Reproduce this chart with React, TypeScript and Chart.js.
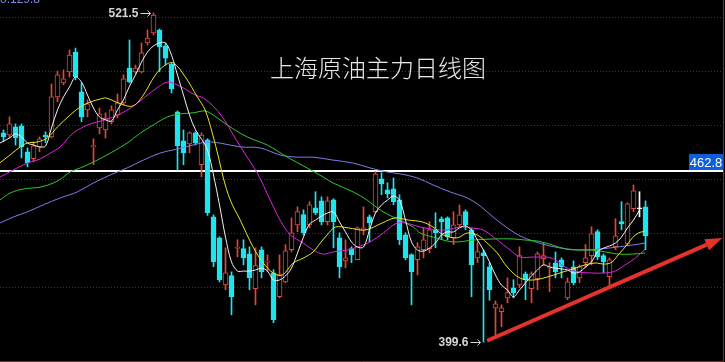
import React, { useEffect, useRef } from "react";
import { Chart, registerables } from "chart.js";

Chart.register(...registerables);

// ---- candle data (daily, oldest first) ----
const OPEN = [
  477.1, 476.3, 479.3, 479.7, 470.1, 467.5, 471.9, 476.3, 475.6, 490.4,
  495.6, 499.7, 507.0, 492.3, 485.6, 472.0, 478.9, 478.2, 481.2, 483.7,
  488.2, 501.1, 499.7, 499.7, 510.4, 514.1, 515.2, 509.3, 502.6, 484.9,
  474.1, 473.0, 477.1, 465.3, 474.5, 446.0, 438.2, 420.8, 424.2, 434.3,
  434.2, 432.3, 419.4, 433.8, 429.2, 425.3, 416.4, 421.9, 433.8, 443.0,
  446.8, 443.0, 449.3, 451.9, 444.2, 452.3, 438.2, 429.7, 434.2, 430.1,
  441.1, 446.0, 447.9, 460.1, 456.0, 456.4, 452.3, 439.3, 432.0, 430.1,
  433.8, 434.2, 441.2, 445.3, 445.6, 438.2, 443.0, 447.9, 441.2, 430.8,
  432.7, 427.5, 412.3, 410.9, 416.0, 419.7, 420.8, 424.9, 419.4, 423.1,
  430.5, 427.1, 429.0, 430.1, 416.0, 427.5, 423.4, 429.0, 431.6, 440.5,
  431.6, 423.8, 434.9, 444.2, 436.0, 449.0, 449.0, 449.7,
];
const HIGH = [
  478.2, 483.0, 480.4, 480.4, 471.5, 473.8, 475.6, 477.5, 495.2, 500.0,
  500.4, 507.8, 508.5, 495.6, 489.3, 474.9, 486.3, 484.5, 487.1, 491.5,
  498.6, 511.5, 502.2, 510.4, 515.2, 521.5, 515.6, 510.4, 503.0, 485.2,
  478.2, 477.5, 477.5, 477.1, 474.9, 446.7, 438.6, 434.5, 425.6, 437.5,
  437.5, 434.9, 434.5, 434.9, 431.9, 426.4, 431.9, 435.7, 445.6, 449.7,
  448.6, 451.6, 455.3, 453.4, 453.4, 452.7, 440.1, 437.5, 434.9, 442.3,
  449.7, 446.7, 462.7, 462.3, 458.6, 460.4, 454.2, 440.1, 432.3, 436.4,
  441.9, 444.2, 447.5, 446.0, 446.0, 447.9, 450.4, 448.6, 441.9, 436.8,
  433.8, 429.0, 414.9, 413.4, 423.4, 422.7, 434.9, 425.6, 425.6, 433.0,
  436.4, 429.0, 433.0, 430.8, 423.4, 429.7, 428.2, 435.7, 442.3, 441.2,
  432.3, 430.8, 445.3, 451.6, 451.2, 457.8, 455.3, 451.9,
];
const LOW = [
  473.8, 475.2, 472.6, 467.8, 464.5, 466.4, 470.1, 473.4, 475.2, 488.6,
  494.9, 497.8, 496.7, 481.2, 483.0, 465.3, 476.7, 475.2, 480.4, 482.6,
  487.4, 495.6, 498.9, 499.3, 509.6, 513.4, 499.7, 502.2, 491.9, 463.4,
  465.3, 469.7, 472.6, 460.8, 446.5, 427.5, 421.9, 419.0, 409.7, 431.2,
  428.2, 419.0, 413.4, 423.4, 425.7, 406.8, 416.0, 421.6, 433.0, 440.5,
  439.3, 441.9, 446.8, 443.0, 443.0, 434.5, 423.4, 427.1, 429.0, 430.1,
  439.3, 436.8, 447.5, 454.2, 453.0, 450.5, 435.7, 430.1, 413.4, 424.5,
  430.8, 432.7, 434.5, 437.5, 437.5, 435.7, 442.3, 441.2, 416.4, 429.0,
  399.6, 415.1, 401.6, 405.3, 414.2, 416.0, 419.7, 415.3, 414.2, 419.0,
  428.2, 418.3, 423.4, 423.4, 415.3, 420.8, 421.6, 427.1, 428.2, 430.1,
  425.3, 420.1, 433.8, 441.2, 435.3, 447.9, 446.0, 433.8,
];
const CLOSE = [
  475.6, 480.4, 475.2, 471.9, 466.0, 472.3, 474.9, 475.6, 490.4, 498.6,
  497.1, 505.9, 497.8, 483.0, 487.8, 472.3, 484.1, 482.6, 485.6, 488.2,
  497.1, 496.0, 501.1, 506.7, 512.2, 520.7, 508.9, 504.8, 493.4, 472.3,
  469.7, 477.1, 473.4, 476.3, 447.5, 429.4, 422.7, 425.3, 416.4, 434.6,
  430.8, 423.4, 427.9, 425.7, 429.6, 407.9, 424.6, 433.4, 440.1, 447.9,
  440.1, 450.4, 447.5, 444.2, 451.9, 444.2, 427.5, 430.8, 432.0, 441.9,
  441.9, 443.8, 461.9, 458.2, 454.5, 451.6, 437.5, 430.8, 425.7, 434.9,
  437.5, 441.2, 440.1, 444.2, 438.6, 443.0, 446.7, 443.0, 428.2, 433.1,
  431.6, 419.0, 413.8, 412.3, 417.9, 417.9, 431.6, 422.7, 424.9, 432.3,
  431.6, 427.5, 425.7, 427.5, 421.9, 421.6, 427.5, 430.8, 439.7, 431.2,
  429.4, 430.1, 439.0, 443.4, 450.8, 455.6, 449.0, 438.9,
];

// ---- moving averages ----
// MA5: one value per candle, starting at candle 0
const MA5 = [
  473.3, 475.2, 476.7, 475.6, 473.3, 472.6, 471.9, 472.2, 478.9, 485.6,
  490.4, 494.1, 497.8, 495.9, 491.1, 486.3, 483.0, 481.9, 481.5, 485.6,
  489.3, 494.4, 498.5, 503.3, 507.0, 509.3, 510.4, 510.4, 505.9, 498.5,
  491.1, 483.7, 478.2, 474.8, 470.7, 461.5, 450.4, 438.5, 429.3, 425.9,
  425.9, 425.9, 426.3, 427.0, 425.9, 422.6, 422.6, 424.1, 427.0, 432.6,
  438.5, 443.3, 444.8, 446.3, 447.4, 447.8, 444.1, 440.4, 436.7, 434.8,
  434.8, 441.1, 447.4, 450.4, 452.2, 453.7, 452.2, 444.8, 436.7, 433.7,
  433.3, 434.4, 436.3, 439.3, 440.4, 440.4, 441.9, 442.6, 441.1, 437.4,
  433.7, 429.3, 424.4, 420.7, 418.9, 416.3, 418.9, 421.5, 424.1, 426.3,
  428.2, 427.4, 427.0, 426.7, 426.3, 425.2, 425.6, 427.4, 429.3, 433.0,
  434.4, 435.2, 436.3, 438.5, 441.9, 444.8, 448.5,
];
// [candle index, value]
const MA10: [number, number][] = [
  [-0.6, 466.0], [1.1, 468.9], [2.8, 471.9], [3.95, 473.3], [5.6, 473.7], [7.3, 475.2],
  [9, 479.3], [11.1, 483.7], [12.8, 486.7], [14.45, 488.5], [16.1, 489.6], [17.1, 490.0],
  [19.1, 488.2], [21.45, 487.0], [23.1, 490.4], [25.3, 498.5], [26.95, 502.2], [28.3, 503.0],
  [30.3, 497.8], [32.3, 490.4], [33.6, 485.6], [34.8, 477.0], [35.95, 467.0], [36.6, 460.7],
  [37.8, 452.2], [39.45, 444.8], [41.6, 434.8], [43.3, 428.9], [44.95, 425.2], [46.45, 424.4],
  [48.3, 428.9], [49.95, 430.7], [51.6, 433.0], [52.8, 436.3], [53.95, 439.3], [55.3, 442.2],
  [57.45, 441.9], [60.3, 441.1], [63.1, 443.7], [65.3, 445.6], [67.45, 444.8], [69.8, 444.1],
  [71.6, 442.2], [73.3, 439.3], [75.6, 438.2], [77.3, 440.0], [78.95, 439.3], [80.6, 436.3],
  [82.3, 432.6], [83.95, 427.4], [86.1, 423.3], [88.3, 422.6], [90.6, 423.7], [92.75, 425.2],
  [95.3, 427.0], [96.95, 428.2], [98.6, 428.9], [100.3, 428.5], [101.45, 429.3], [102.45, 431.9],
  [103.6, 434.8], [104.8, 438.2], [105.8, 440.0], [106.95, 440.7],
];
const MA20: [number, number][] = [
  [-0.6, 460.7], [1.6, 463.3], [3.95, 465.9], [6.1, 467.4], [7.8, 469.6], [9.45, 471.9],
  [11.6, 477.0], [14.0, 480.0], [15.6, 481.1], [17.3, 482.2], [19.1, 483.7], [21.45, 486.7],
  [23.6, 490.4], [25.8, 494.1], [27.3, 495.9], [28.6, 495.2], [30.3, 493.3], [31.95, 491.1],
  [33.3, 490.0], [34.95, 487.0], [36.6, 482.6], [38.6, 475.2], [40.6, 468.1], [42.3, 462.2],
  [44.45, 452.2], [46.1, 444.8], [47.8, 439.3], [49.95, 436.3], [51.6, 433.7], [53.3, 432.2],
  [54.95, 433.0], [57.3, 433.7], [58.95, 434.8], [61.1, 436.7], [63.3, 440.0], [65.6, 443.7],
  [67.8, 443.3], [69.45, 442.2], [73.3, 441.1], [76.1, 442.2], [77.8, 441.9], [79.95, 441.1],
  [82.3, 437.4], [84.45, 433.7], [86.1, 431.1], [88.3, 431.1], [91.45, 430.7], [93.6, 427.4],
  [95.8, 425.6], [98.1, 425.2], [100.3, 425.2], [101.95, 425.9], [103.6, 428.2], [105.3, 430.7],
  [106.95, 434.1],
];
const MA40: [number, number][] = [
  [-0.6, 452.2], [1.1, 454.8], [3.3, 456.3], [6.1, 457.0], [8.3, 458.5], [9.8, 460.4],
  [11.1, 462.6], [12.8, 464.1], [15.0, 466.3], [17.8, 469.6], [20.6, 473.3], [22.8, 477.0],
  [24.95, 480.0], [27.3, 483.0], [29.45, 484.1], [31.6, 484.5], [33.6, 485.2], [34.95, 483.7],
  [37.3, 480.0], [40.6, 475.6], [43.95, 472.6], [47.3, 468.1], [50.6, 464.1], [53.3, 460.7],
  [54.95, 458.5], [58.3, 455.2], [60.6, 452.2], [62.8, 448.5], [64.95, 445.9], [66.1, 444.8],
  [68.3, 442.2], [69.45, 440.0], [71.6, 438.5], [74.95, 436.7], [78.3, 437.4], [81.6, 437.8],
  [84.95, 437.8], [86.95, 437.4], [89.1, 437.0], [91.45, 435.6], [93.6, 434.1], [95.8, 433.7],
  [98.1, 433.7], [100.3, 433.0], [102.45, 432.2], [104.8, 432.2], [106.95, 432.6],
];
const MA60: [number, number][] = [
  [-0.6, 443.7], [1.6, 445.9], [3.95, 447.8], [6.6, 450.4], [9.45, 453.0], [12.3, 455.2],
  [14.95, 458.5], [17.8, 461.5], [20.6, 464.1], [23.3, 467.0], [26.1, 469.6], [28.95, 471.1],
  [31.6, 472.6], [33.95, 473.7], [36.1, 473.3], [39.45, 471.9], [42.8, 471.5], [46.1, 468.9],
  [48.95, 468.1], [51.6, 468.1], [54.95, 467.0], [58.3, 465.9], [61.1, 464.1], [63.95, 462.6],
  [66.1, 461.9], [68.95, 460.4], [71.6, 457.8], [74.45, 455.2], [77.3, 453.0], [79.45, 450.0],
  [81.6, 445.9], [83.95, 441.9], [86.1, 438.9], [88.3, 437.0], [91.1, 435.2], [93.95, 434.1],
  [96.6, 433.7], [99.45, 434.1], [102.3, 434.8], [104.95, 435.6], [106.95, 436.3],
];

const GRID_VALUES = [420, 440, 460, 480, 500, 520];
const PRICE_LINE = 462.8;
const TITLE = "上海原油主力日线图";
const TOP_TEXT = "0.129.8";
const TREND_FROM: [number, number] = [80.6, 400.1];
const TREND_TO: [number, number] = [119.8, 438.2];

const X_MIN = -0.5833;
const X_MAX = 119.9167;
const Y_MIN = 392.6;
const Y_MAX = 526.3;

const RED = "#e2473b";
const CYAN = "#1ee4ee";
const WHITE = "#ffffff";

function candleColor(i: number) {
  if (CLOSE[i] > OPEN[i]) return RED;
  if (CLOSE[i] < OPEN[i]) return CYAN;
  return WHITE;
}

const overlay = {
  id: "overlay",
  beforeDraw(chart: any) {
    const { ctx, width, height } = chart;
    ctx.save();
    ctx.fillStyle = "#000000";
    ctx.fillRect(0, 0, width, height);
    ctx.restore();
  },
  beforeDatasetsDraw(chart: any) {
    const { ctx, chartArea, scales } = chart;
    const ys = scales.y;
    ctx.save();
    ctx.strokeStyle = "#8c1414";
    ctx.lineWidth = 1;
    ctx.setLineDash([1, 2]);
    GRID_VALUES.forEach((v) => {
      const y = Math.round(ys.getPixelForValue(v)) + 0.5;
      ctx.beginPath();
      ctx.moveTo(chartArea.left, y);
      ctx.lineTo(chartArea.right, y);
      ctx.stroke();
    });
    ctx.setLineDash([]);
    // horizontal price line
    const py = Math.round(ys.getPixelForValue(PRICE_LINE));
    ctx.strokeStyle = "#ffffff";
    ctx.lineWidth = 2;
    ctx.beginPath();
    ctx.moveTo(chartArea.left, py);
    ctx.lineTo(chartArea.right, py);
    ctx.stroke();
    ctx.restore();
  },
  afterDatasetsDraw(chart: any) {
    const { ctx, chartArea, scales } = chart;
    const xs = scales.x;
    const ys = scales.y;
    ctx.save();

    // title
    ctx.fillStyle = "#e8e8e8";
    ctx.font = '300 24px "Noto Sans CJK SC"';
    ctx.textAlign = "center";
    ctx.textBaseline = "middle";
    ctx.fillText(TITLE, 378, 68);

    // top-left clipped text
    ctx.fillStyle = "#8088ea";
    ctx.font = '12px "Liberation Sans"';
    ctx.textAlign = "left";
    ctx.textBaseline = "alphabetic";
    ctx.fillText(TOP_TEXT, 0, 3);

    // high / low markers
    const drawMarker = (k: number, v: number) => {
      const tx = xs.getPixelForValue(k) - 3;
      const ty = Math.round(ys.getPixelForValue(v)) + 0.5;
      ctx.strokeStyle = "#d6d6d6";
      ctx.fillStyle = "#d6d6d6";
      ctx.lineWidth = 1;
      ctx.beginPath();
      ctx.moveTo(tx - 10, ty);
      ctx.lineTo(tx, ty);
      ctx.moveTo(tx - 3, ty - 3);
      ctx.lineTo(tx, ty);
      ctx.lineTo(tx - 3, ty + 3);
      ctx.stroke();
      ctx.font = 'bold 12px "Liberation Sans"';
      ctx.textAlign = "right";
      ctx.textBaseline = "middle";
      ctx.fillText(v.toFixed(1), tx - 12, ty);
    };
    const hi = Math.max(...HIGH);
    const lo = Math.min(...LOW);
    drawMarker(HIGH.indexOf(hi), hi);
    drawMarker(LOW.indexOf(lo), lo);

    // trend arrow
    const x1 = xs.getPixelForValue(TREND_FROM[0]);
    const y1 = ys.getPixelForValue(TREND_FROM[1]);
    const x2 = xs.getPixelForValue(TREND_TO[0]);
    const y2 = ys.getPixelForValue(TREND_TO[1]);
    const ang = Math.atan2(y2 - y1, x2 - x1);
    const headLen = 17;
    const headW = 6;
    const bx = x2 - headLen * Math.cos(ang);
    const by = y2 - headLen * Math.sin(ang);
    ctx.strokeStyle = "#e5332b";
    ctx.fillStyle = "#e5332b";
    ctx.lineWidth = 4;
    ctx.beginPath();
    ctx.moveTo(x1, y1);
    ctx.lineTo(bx, by);
    ctx.stroke();
    ctx.beginPath();
    ctx.moveTo(x2, y2);
    ctx.lineTo(bx + headW * Math.sin(ang), by - headW * Math.cos(ang));
    ctx.lineTo(bx - headW * Math.sin(ang), by + headW * Math.cos(ang));
    ctx.closePath();
    ctx.fill();

    // price tag
    const py = Math.round(ys.getPixelForValue(PRICE_LINE));
    const bw = 34;
    const bh = 16;
    ctx.fillStyle = "#0c5fd8";
    ctx.fillRect(chartArea.right - bw, py - 1 - bh, bw, bh);
    ctx.fillStyle = "#ffffff";
    ctx.font = '13px "Liberation Sans"';
    ctx.textAlign = "center";
    ctx.textBaseline = "middle";
    ctx.fillText(PRICE_LINE.toFixed(1), chartArea.right - bw / 2, py - 1 - bh / 2 + 1);

    // frame (right, bottom)
    ctx.strokeStyle = "#a01c1c";
    ctx.lineWidth = 1;
    ctx.beginPath();
    ctx.moveTo(chartArea.right + 0.5, chartArea.top);
    ctx.lineTo(chartArea.right + 0.5, chartArea.bottom + 0.5);
    ctx.lineTo(chartArea.left, chartArea.bottom + 0.5);
    ctx.stroke();
    ctx.restore();
  },
};

export default function App() {
  const canvasRef = useRef<HTMLCanvasElement | null>(null);

  useEffect(() => {
    const canvas = canvasRef.current;
    if (!canvas) return;
    const colors = OPEN.map((_, i) => candleColor(i));
    const bodyFill = OPEN.map((_, i) => (CLOSE[i] > OPEN[i] ? "#000000" : candleColor(i)));
    const line = (label: string, pts: [number, number][], color: string) => ({
      type: "line" as const,
      label,
      data: pts.map(([x, y]) => ({ x, y })),
      borderColor: color,
      borderWidth: 1,
      pointRadius: 0,
      tension: 0.35,
      fill: false,
      order: 0,
    });
    const ma5Pts: [number, number][] = MA5.map((v, k) => [k === 0 ? -0.6 : k, v]);

    const chart = new Chart(canvas, {
      type: "bar",
      data: {
        datasets: [
          line("MA5", ma5Pts, "#f2f2f2"),
          line("MA10", MA10, "#e6e62a"),
          line("MA20", MA20, "#e022e0"),
          line("MA40", MA40, "#2ec82e"),
          line("MA60", MA60, "#7d7de8"),
          {
            type: "bar",
            label: "body",
            data: OPEN.map((o, i) => ({ x: i, y: [o, CLOSE[i]] })) as any,
            backgroundColor: bodyFill,
            borderColor: colors,
            borderWidth: 1,
            borderSkipped: false,
            barThickness: 5,
            minBarLength: 1,
            grouped: false,
            order: 1,
          } as any,
          {
            type: "bar",
            label: "wick",
            data: LOW.map((l, i) => ({ x: i, y: [l, HIGH[i]] })) as any,
            backgroundColor: colors,
            borderWidth: 0,
            barThickness: 1,
            grouped: false,
            order: 2,
          } as any,
        ],
      },
      options: {
        responsive: false,
        animation: false,
        events: [],
        layout: { padding: { left: 0, top: 0, right: 2, bottom: 1 } },
        plugins: { legend: { display: false }, tooltip: { enabled: false } },
        scales: {
          x: { type: "linear", min: X_MIN, max: X_MAX, display: false, offset: false },
          y: { type: "linear", min: Y_MIN, max: Y_MAX, display: false, beginAtZero: false },
        },
      } as any,
      plugins: [overlay],
    });
    return () => chart.destroy();
  }, []);

  return (
    <div style={{ position: "fixed", left: 0, top: 0, width: 725, height: 362, background: "#000" }}>
      <canvas ref={canvasRef} width={725} height={362} style={{ display: "block" }} />
    </div>
  );
}
